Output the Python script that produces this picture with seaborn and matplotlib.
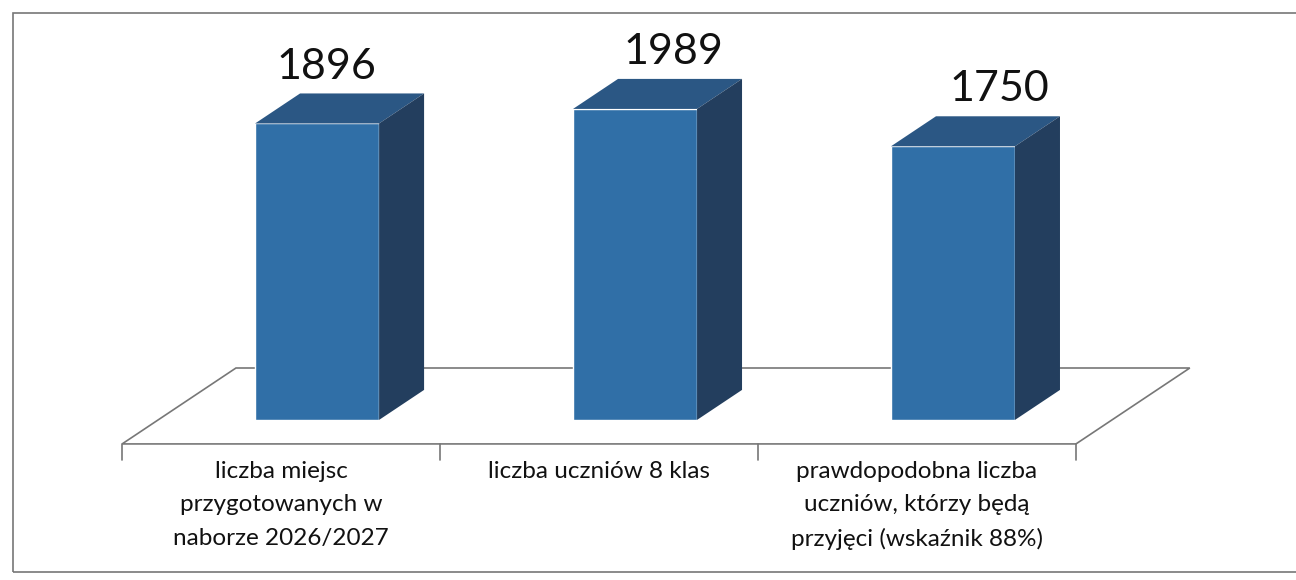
import matplotlib.pyplot as plt
import seaborn as sns
from matplotlib.patches import Polygon, Rectangle

categories = ['liczba miejsc\nprzygotowanych w\nnaborze 2026/2027',
              'liczba uczniów 8 klas',
              'prawdopodobna liczba\nuczniów, którzy będą\nprzyjęci (wskaźnik 88%)']
values = [1896, 1989, 1750]

front_color = '#306fa7'
top_color = '#2b5784'
side_color = '#233e5e'

sns.set_style('white')
plt.rcParams['font.family'] = ['Lato', 'DejaVu Sans']

fig = plt.figure(figsize=(12.96, 5.8), dpi=100)
ax = fig.add_axes([0.122, 0.276, 0.736, 0.647])

sns.barplot(x=list(range(len(values))), y=values, color=front_color,
            width=0.39, saturation=1, ax=ax, zorder=3)
ax.set_xlim(-0.5, 2.5)
ax.set_ylim(0, 2400)

# depth vector (data units): 45 px right, 30 px up
px_x = 1 / 318
px_y = 1 / 0.1563
ddx = 45 * px_x
ddy = 30 * px_y

# floor
xl, xr = ax.get_xlim()
f0, f1 = -0.8, 1.73
floor = Polygon([(xl + f0 * ddx, f0 * ddy), (xr + f0 * ddx, f0 * ddy),
                 (xr + f1 * ddx, f1 * ddy), (xl + f1 * ddx, f1 * ddy)],
                closed=True, facecolor='white', edgecolor='#777777',
                lw=1.2, clip_on=False, zorder=1)
ax.add_patch(floor)

# tick marks on front edge of floor
for t in range(len(values) + 1):
    xt = xl + t + f0 * ddx
    ax.plot([xt, xt], [f0 * ddy, f0 * ddy - 100], color='#777777', lw=1.2,
            clip_on=False, zorder=1)

# label nudges (px) as placed in the original chart
nudges = [9, 38, 46]

# 3D faces derived from the drawn bars
bars = [p for p in ax.patches if isinstance(p, Rectangle)]
for bar, v, nx in zip(bars, values, nudges):
    x0 = bar.get_x()
    w = bar.get_width()
    h = bar.get_height()
    top = Polygon([(x0, h), (x0 + w, h), (x0 + w + ddx, h + ddy), (x0 + ddx, h + ddy)],
                  closed=True, facecolor=top_color, edgecolor='none', zorder=3,
                  clip_on=False)
    side = Polygon([(x0 + w, 0), (x0 + w + ddx, ddy), (x0 + w + ddx, h + ddy), (x0 + w, h)],
                   closed=True, facecolor=side_color, edgecolor='none', zorder=3,
                   clip_on=False)
    ax.add_patch(top)
    ax.add_patch(side)
    ax.text(x0 + w / 2 + nx * px_x, h + ddy + 50, str(v), ha='center', va='bottom',
            fontsize=31, color='#111111', clip_on=False)

# category labels under the floor
for i, lab in enumerate(categories):
    ax.text(i + f0 * ddx, f0 * ddy - 110, lab, ha='center', va='top',
            fontsize=17.5, linespacing=1.72, color='#111111', clip_on=False)

ax.set_xticks([])
ax.set_yticks([])
for s in ax.spines.values():
    s.set_visible(False)

# outer frame
fig.add_artist(Rectangle((0.010, 0.014), 1.2, 0.964, transform=fig.transFigure,
                         fill=False, edgecolor='#777777', lw=1.2))

fig.savefig('out.png', dpi=100)
